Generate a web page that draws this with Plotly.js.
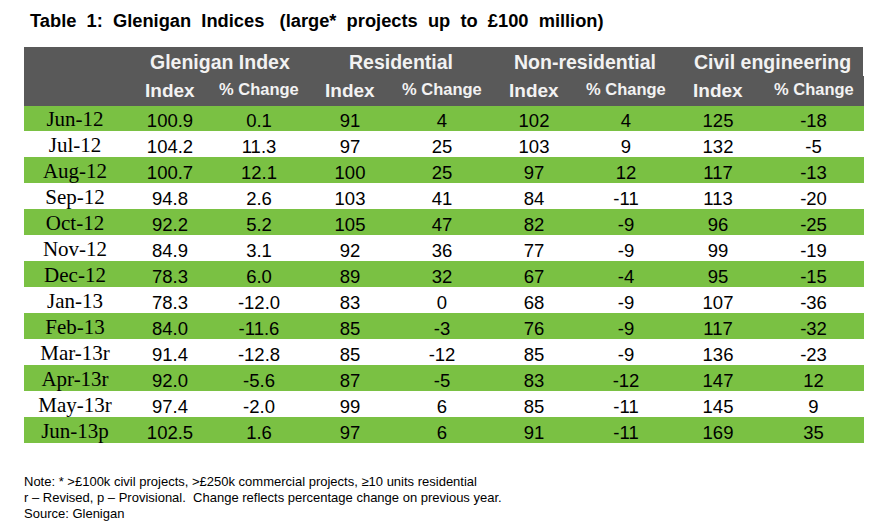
<!DOCTYPE html>
<html>
<head>
<meta charset="utf-8">
<script src="https://cdn.plot.ly/plotly-3.0.1.min.js"></script>
<style>html,body{margin:0;padding:0;background:#fff;}#chart{width:881px;height:531px;}</style>
</head>
<body>
<div id="chart"></div>
<script>
const months = ["Jun-12","Jul-12","Aug-12","Sep-12","Oct-12","Nov-12","Dec-12","Jan-13","Feb-13","Mar-13r","Apr-13r","May-13r","Jun-13p"];
const gleniganIndex = [100.9,104.2,100.7,94.8,92.2,84.9,78.3,78.3,84.0,91.4,92.0,97.4,102.5];
const gleniganChange = [0.1,11.3,12.1,2.6,5.2,3.1,6.0,-12.0,-11.6,-12.8,-5.6,-2.0,1.6];
const residentialIndex = [91,97,100,103,105,92,89,83,85,85,87,99,97];
const residentialChange = [4,25,25,41,47,36,32,0,-3,-12,-5,6,6];
const nonResIndex = [102,103,97,84,82,77,67,68,76,85,83,85,91];
const nonResChange = [4,9,12,-11,-9,-9,-4,-9,-9,-9,-12,-11,-11];
const civilIndex = [125,132,117,113,96,99,95,107,117,136,147,145,169];
const civilChange = [-18,-5,-13,-20,-25,-19,-15,-36,-32,-23,12,9,35];
const groupLabels = ["Glenigan Index","Residential","Non-residential","Civil engineering"];
const subLabels = ["Index","% Change"];
const titleWords = ["Table","1:","Glenigan","Indices","(large*","projects","up","to","£100","million)"];
const noteLines = [
  "Note: * >£100k civil projects, >£250k commercial projects, ≥10 units residential",
  "r – Revised, p – Provisional.  Change reflects percentage change on previous year.",
  "Source: Glenigan"
];

const W = 881, H = 531;
const tableLeft = 24, tableRight = 863;
const headTop = 47, subTop = 76, bodyTop = 105;
const rowH = 26, subH = 29, dateLift = 3;
const bodyBottom = bodyTop + rowH * months.length;
const colWidths = [102, 88, 90, 92, 92, 92, 92, 92, 99];

const GREEN = "#7ac143", DARK = "#595959", HEADTXT = "#f2f2f2", CLEAR = "rgba(0,0,0,0)";
const SANS = "Liberation Sans, Arial", SERIF = "Liberation Serif, Times New Roman";

const dataColumns = [gleniganIndex, gleniganChange, residentialIndex, residentialChange,
                     nonResIndex, nonResChange, civilIndex, civilChange];
const blankDates = months.map(() => "");
const columns = [blankDates].concat(dataColumns);
const rowFill = months.map((m, i) => i % 2 === 0 ? GREEN : "#ffffff");
const fillGrid = columns.map(() => rowFill.slice());

const plotH = bodyBottom - subTop;
const mB = H - bodyBottom;
const plotW = tableRight - tableLeft;
const totalW = colWidths.reduce((a, b) => a + b, 0);

const mainTable = {
  type: "table",
  columnwidth: colWidths,
  domain: {x: [0, 1], y: [0, 1]},
  header: {
    values: columns.map(() => ""),
    align: "center",
    height: subH,
    fill: {color: DARK},
    line: {color: DARK, width: 1},
    font: {family: SANS, size: 8, color: HEADTXT}
  },
  cells: {
    values: columns,
    format: ["", ".1f", ".1f", "", "", "", "", "", ""],
    align: "center",
    height: rowH,
    fill: {color: fillGrid},
    line: {color: fillGrid, width: 1},
    font: {family: SANS, size: 18.5, color: "#000000"}
  }
};

// date labels (serif) drawn as an overlay column, lifted slightly like the original
const dateTable = {
  type: "table",
  columnwidth: [colWidths[0]],
  domain: {x: [0, colWidths[0] / totalW], y: [0, 1]},
  header: {
    values: [""],
    height: subH - dateLift,
    fill: {color: CLEAR},
    line: {color: CLEAR, width: 0},
    font: {family: SANS, size: 6, color: CLEAR}
  },
  cells: {
    values: [months],
    align: "center",
    height: rowH,
    fill: {color: CLEAR},
    line: {color: CLEAR, width: 0},
    font: {family: SERIF, size: 21, color: "#000000"}
  }
};

function pxToPaperY(py) { return (bodyBottom - py) / plotH; }
function pxToPaperX(px) { return (px - tableLeft) / plotW; }

const annotations = [];
let cum = colWidths[0];
for (let g = 0; g < groupLabels.length; g++) {
  const w1 = colWidths[1 + 2 * g], w2 = colWidths[2 + 2 * g];
  annotations.push({
    xref: "paper", yref: "paper", x: pxToPaperX(tableLeft + cum + (w1 + w2) / 2 + 5), y: pxToPaperY(62),
    xanchor: "center", yanchor: "middle", showarrow: false,
    text: "<b>" + groupLabels[g] + "</b>",
    font: {family: SANS, size: 19.5, color: HEADTXT}
  });
  annotations.push({
    xref: "paper", yref: "paper", x: (cum + w1 / 2) / totalW, y: pxToPaperY(90),
    xanchor: "center", yanchor: "middle", showarrow: false,
    text: "<b>" + subLabels[0] + "</b>",
    font: {family: SANS, size: 19, color: HEADTXT}
  });
  annotations.push({
    xref: "paper", yref: "paper", x: (cum + w1 + w2 / 2) / totalW, y: pxToPaperY(89),
    xanchor: "center", yanchor: "middle", showarrow: false,
    text: "<b>" + subLabels[1] + "</b>",
    font: {family: SANS, size: 16.5, color: HEADTXT}
  });
  cum += w1 + w2;
}
const titleText = titleWords.map((w, i) => i === 0 ? w : (i === 4 ? "\u00a0\u00a0 " : "\u00a0 ") + w).join("");
annotations.push({
  xref: "paper", yref: "paper", x: pxToPaperX(28), y: pxToPaperY(21),
  xanchor: "left", yanchor: "middle", showarrow: false,
  text: "<b>" + titleText + "</b>",
  font: {family: SANS, size: 18.3, color: "#000000"}
});
const noteY = [481, 497, 513];
noteLines.forEach((t, i) => {
  annotations.push({
    xref: "paper", yref: "paper", x: pxToPaperX(22), y: pxToPaperY(noteY[i]),
    xanchor: "left", yanchor: "middle", showarrow: false,
    text: t,
    font: {family: SANS, size: 13, color: "#000000"}
  });
});

const layout = {
  width: W, height: H,
  margin: {l: tableLeft, r: W - tableRight, t: subTop, b: mB, pad: 0},
  paper_bgcolor: "#ffffff",
  plot_bgcolor: "#ffffff",
  showlegend: false,
  shapes: [{
    type: "rect", xref: "paper", yref: "paper",
    x0: 0, x1: 1, y0: pxToPaperY(subTop) - 0.001, y1: pxToPaperY(headTop),
    fillcolor: DARK, line: {width: 0}, layer: "below"
  }],
  annotations: annotations
};

Plotly.newPlot("chart", [mainTable, dateTable], layout, {displayModeBar: false, staticPlot: true});
</script>
</body>
</html>
